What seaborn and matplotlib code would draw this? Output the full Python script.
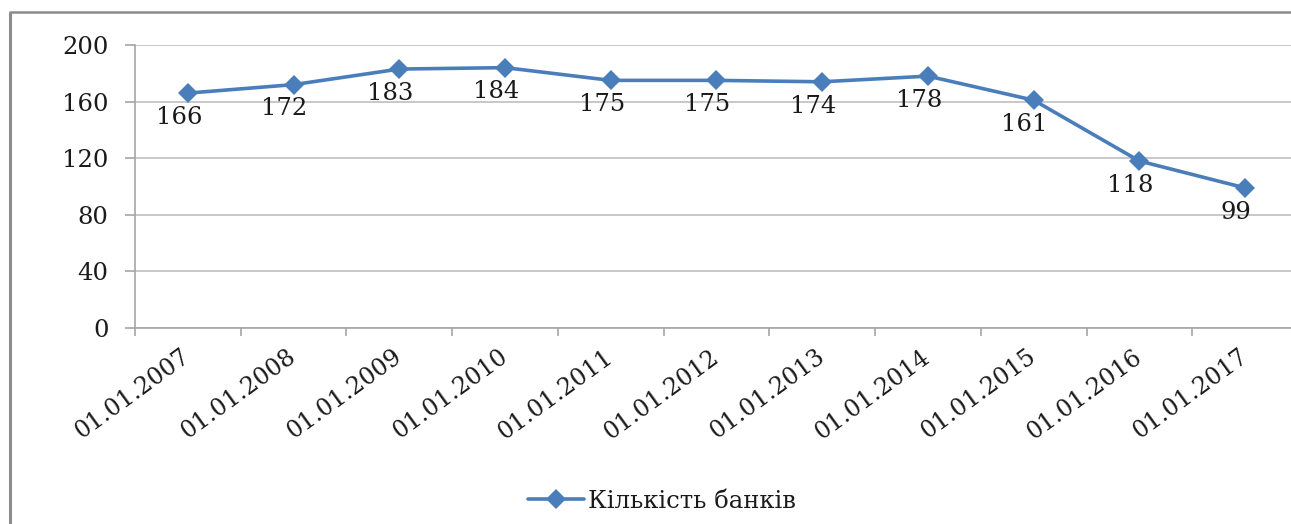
import matplotlib
matplotlib.use("Agg")
import matplotlib.pyplot as plt
from matplotlib.lines import Line2D
from matplotlib.ticker import FixedLocator
import seaborn as sns
import pandas as pd

# Number of banks by reporting date
dates = ["01.01.2007", "01.01.2008", "01.01.2009", "01.01.2010", "01.01.2011",
         "01.01.2012", "01.01.2013", "01.01.2014", "01.01.2015", "01.01.2016",
         "01.01.2017"]
banks = [166, 172, 183, 184, 175, 175, 174, 178, 161, 118, 99]
y_ticks = [0, 40, 80, 120, 160, 200]
series_name = "Кількість банків"

df = pd.DataFrame({"date": dates, "banks": banks})

sns.set_theme(style="white")
plt.rcParams["font.family"] = ["DejaVu Serif", "DejaVu Sans"]
FS = 17.5
LINE_COLOR = "#4A7EBB"
GRID_COLOR = "#C4C4C4"
AXIS_COLOR = "#A6A6A6"
TEXT_COLOR = "#1A1A1A"

W, H = 1291, 524
fig = plt.figure(figsize=(W / 100, H / 100), dpi=100)
fig.patch.set_facecolor("white")
ax = fig.add_axes([135 / W, 1 - 328 / H, 1163 / W, 283 / H])
ax.set_facecolor("white")

sns.lineplot(data=df, x="date", y="banks", sort=False, ax=ax,
             color=LINE_COLOR, linewidth=2.6, marker="D", markersize=10,
             markeredgewidth=0, label=series_name)

# value labels under each point
for i, v in enumerate(banks):
    ax.annotate(str(v), (i, v), xytext=(-6.5, -17.5), textcoords="offset points",
                ha="center", va="center", fontsize=FS, color=TEXT_COLOR)

ax.set_xlim(-0.5, len(dates) - 0.5)
ax.set_ylim(0, 200)
ax.set_yticks(y_ticks)
ax.set_xticks(range(len(dates)))
ax.set_xticklabels(dates, rotation=36, ha="right", va="center",
                   rotation_mode="anchor", fontsize=17, color=TEXT_COLOR)
ax.xaxis.set_minor_locator(FixedLocator([i - 0.5 for i in range(len(dates) + 1)]))
ax.tick_params(axis="x", which="major", length=0, pad=19)
ax.tick_params(axis="x", which="minor", length=6, width=1.2, color=AXIS_COLOR,
               direction="out", bottom=True)
ax.tick_params(axis="y", length=7, width=1.2, color=AXIS_COLOR, pad=12,
               labelsize=FS, labelcolor=TEXT_COLOR, direction="out", left=True)
ax.set_xlabel("")
ax.set_ylabel("")

ax.grid(axis="y", color=GRID_COLOR, linewidth=1.3)
ax.grid(axis="x", visible=False)
ax.set_axisbelow(True)
for side in ("top", "right"):
    ax.spines[side].set_visible(False)
for side in ("left", "bottom"):
    ax.spines[side].set_color(AXIS_COLOR)
    ax.spines[side].set_linewidth(1.2)

ax.legend(loc="center", bbox_to_anchor=(662 / W, 1 - 501 / H),
          bbox_transform=fig.transFigure, frameon=False, fontsize=FS,
          handlelength=2.3, handletextpad=0.15, labelcolor=TEXT_COLOR)

# outer chart frame
fig.add_artist(Line2D([9.5 / W, 9.5 / W], [0, 1 - 12 / H], transform=fig.transFigure,
                      color="#8C8C8C", linewidth=2.2, solid_capstyle="butt"))
fig.add_artist(Line2D([8.5 / W, 1], [1 - 12 / H, 1 - 12 / H], transform=fig.transFigure,
                      color="#8C8C8C", linewidth=1.8, solid_capstyle="butt"))

fig.savefig("out.png", dpi=100, facecolor="white")
